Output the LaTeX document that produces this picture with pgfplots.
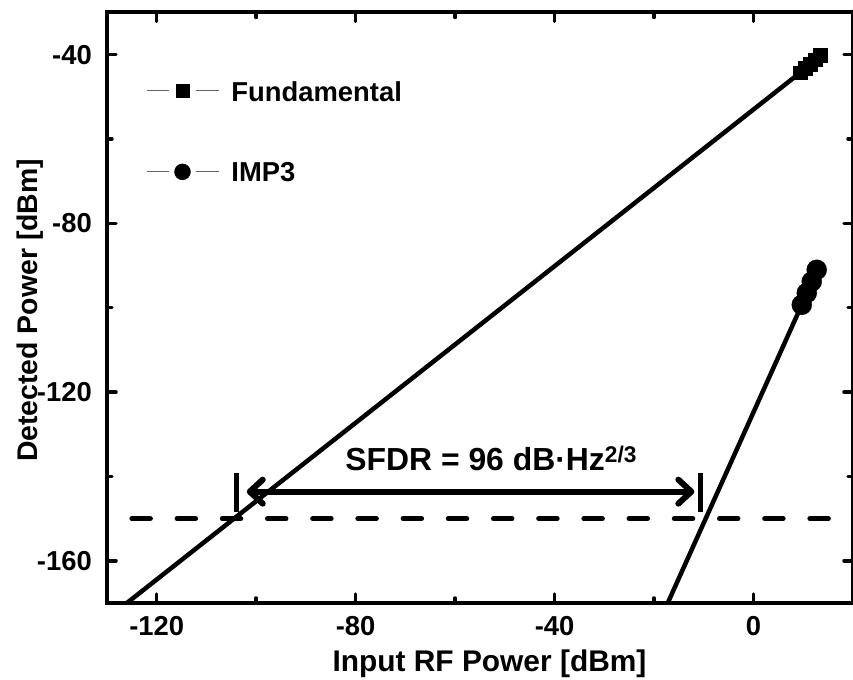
\documentclass[border=0pt]{standalone}
\usepackage{fontspec}
\setmainfont{Liberation Sans}
\usepackage{pgfplots}
\pgfplotsset{compat=1.18}
\usetikzlibrary{arrows.meta,calc}

\begin{document}
\begin{tikzpicture}
\begin{axis}[
  scale only axis, width=746bp, height=590.5bp,
  xmin=-130, xmax=20, ymin=-170, ymax=-30,
  xtick={-120,-80,-40,0}, xticklabels={-120,-80,-40,0},
  ytick={-160,-120,-80,-40}, yticklabels={-160,-120,-80,-40},
  minor xtick={-100,-60,-20}, minor ytick={-140,-100,-60},
  tick align=inside, tick pos=both,
  major tick length=9bp, minor tick length=5bp,
  tick style={black, line width=3.5bp, line cap=round},
  axis line style={line width=4bp, line join=miter},
  tick label style={font=\fontsize{27.5}{32}\selectfont\bfseries},
  xticklabel style={anchor=north, inner sep=0pt, yshift=-13bp},
  yticklabel style={anchor=east, inner sep=0pt, xshift=-15bp},
  xlabel={Input RF Power [dBm]},
  ylabel={Detected Power [dBm]},
  every axis x label/.style={at={(axis description cs:0.5127,0)}, anchor=base, inner sep=0pt, yshift=-68.7bp, font=\fontsize{30}{36}\selectfont\bfseries},
  every axis y label/.style={at={(axis description cs:-0.0925,0.4955)}, anchor=base, rotate=90, inner sep=0pt, font=\fontsize{28.5}{34}\selectfont\bfseries},
  legend style={draw=none, fill=none, at={(axis description cs:0.0532,0.884)}, anchor=north west,
    font=\fontsize{27.5}{32}\selectfont\bfseries, inner sep=0pt, row sep=60bp, column sep=11.7bp,
    nodes={inner sep=0pt}},
  legend cell align=left,
  legend image code/.code={
    \draw[black!60, line width=1.2bp] (0bp,1bp) -- (21.6bp,1bp) (48.3bp,1bp) -- (71.6bp,1bp);
    \draw[#1] plot coordinates {(35bp,1bp)};
  },
]
\coordinate (LL) at (rel axis cs:0,0);
\coordinate (UR) at (rel axis cs:1,1);

\addlegendimage{only marks, mark=square*, mark size=6.5bp, mark options={fill=black, draw=black}}
\addlegendentry{Fundamental}
\addlegendimage{only marks, mark=*, mark size=8bp, mark options={fill=black, draw=black}}
\addlegendentry{IMP3}

% noise floor
\addplot[forget plot, black, line width=5bp, line cap=round, dash pattern=on 18.5bp off 26.7bp]
  coordinates {(-125,-150) (20,-150)};

% fundamental fit
\addplot[forget plot, black, line width=4.5bp] coordinates {(-126,-170) (9.35,-44.3)};
% IMP3 fit
\addplot[forget plot, black, line width=4.5bp] coordinates {(-17.25,-170) (9.7,-99.3)};

% fundamental data
\addplot[forget plot, only marks, mark=square*, mark size=6.8bp, mark options={fill=black, draw=black}]
  coordinates {(9.35,-44.3) (10.35,-43.25) (11.35,-42.2) (12.4,-41.15) (13.4,-40.1)};
% IMP3 data
\addplot[forget plot, only marks, mark=*, mark size=10bp, mark options={fill=black, draw=black}]
  coordinates {(9.7,-99.3) (10.7,-96.5) (11.7,-93.8) (12.7,-91.0)};

% SFDR bars
\addplot[forget plot, black, line width=5bp] coordinates {(-104.06,-148.4) (-104.06,-139.2)};
\addplot[forget plot, black, line width=5bp] coordinates {(-10.6,-148.4) (-10.6,-139.2)};

\draw[black, line width=6bp, {Straight Barb[round, length=13bp, width=24bp]}-{Straight Barb[round, length=13bp, width=24bp]}]
  (axis cs:-101.9,-143.6) -- (axis cs:-11.9,-143.6);

\node[anchor=base west, inner sep=0pt, font=\fontsize{32}{38}\selectfont\bfseries]
  at (axis cs:-82.1,-138.5) {SFDR = 96 dB·Hz\raisebox{7.7bp}{\fontsize{22.8}{27}\selectfont 2/3}};
\end{axis}
\pgfresetboundingbox
\path[use as bounding box] ($(LL)+(-107bp,-77bp)$) rectangle ($(UR)+(0bp,12.5bp)$);
\end{tikzpicture}
\end{document}
